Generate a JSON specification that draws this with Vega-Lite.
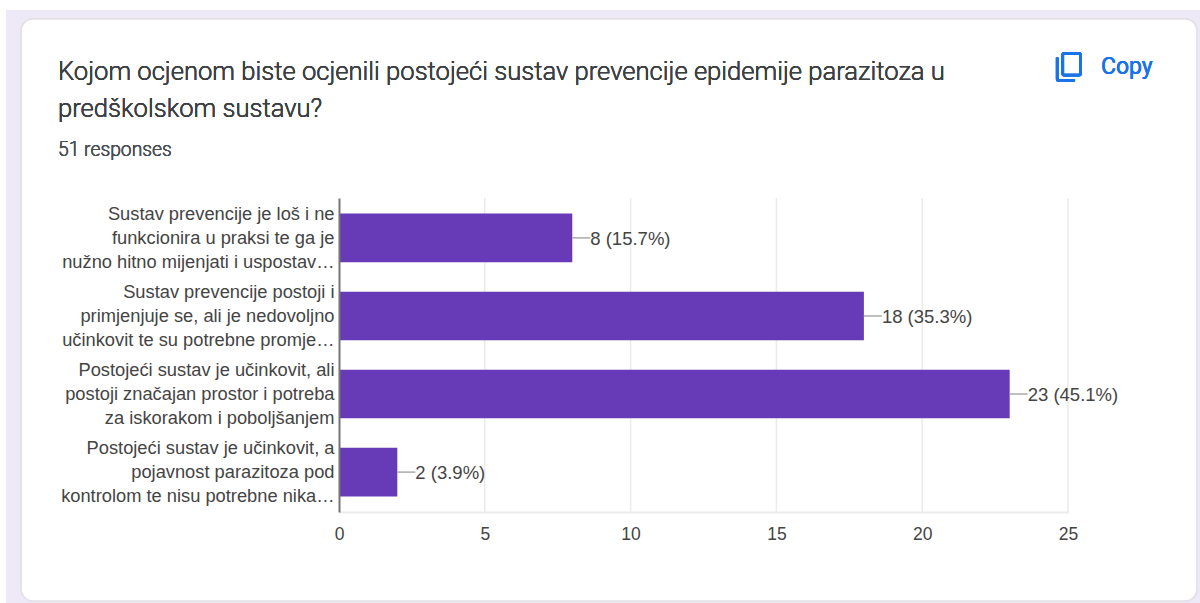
{
"$schema":"https://vega.github.io/schema/vega-lite/v6.json",
"width":729,"height":314,
"autosize":{"type":"none"},
"padding":{"left":339,"top":198,"right":132,"bottom":91},
"background":"#ffffff",
"config":{"view":{"stroke":null}},
"data":{"values":[
{"odgovor":"Sustav prevencije je loš i ne|funkcionira u praksi te ga je|nužno hitno mijenjati i uspostav…","broj":8,"oznaka":"8 (15.7%)"},
{"odgovor":"Sustav prevencije postoji i|primjenjuje se, ali je nedovoljno|učinkovit te su potrebne promje…","broj":18,"oznaka":"18 (35.3%)"},
{"odgovor":"Postojeći sustav je učinkovit, ali|postoji značajan prostor i potreba|za iskorakom i poboljšanjem","broj":23,"oznaka":"23 (45.1%)"},
{"odgovor":"Postojeći sustav je učinkovit, a|pojavnost parazitoza pod|kontrolom te nisu potrebne nika…","broj":2,"oznaka":"2 (3.9%)"}
]},
"resolve":{"scale":{"y":"independent"},"axis":{"y":"independent"}},
"layer":[
{"layer":[
{"mark":{"type":"rect","color":"#ede9f6"},"encoding":{"x":{"datum":-11.42,"type":"quantitative"},"x2":{"datum":29.53},"y":{"datum":10,"type":"quantitative","scale":{"domain":[198,512],"range":[0,314]},"axis":null},"y2":{"datum":603}}},
{"mark":{"type":"rect","color":"#ffffff","stroke":"#e3e1e8","strokeWidth":1.5,"cornerRadius":12},"encoding":{"x":{"datum":-10.9,"type":"quantitative"},"x2":{"datum":29.42},"y":{"datum":19,"type":"quantitative","scale":{"domain":[198,512],"range":[0,314]},"axis":null},"y2":{"datum":601}}},
{"mark":{"type":"point","shape":"M-3.5 -11H7.5c1.1 0 2 .9 2 2V5c0 1.1-.9 2-2 2H-3.5c-1.1 0-2-.9-2-2V-9c0-1.1.9-2 2-2zM-3.5 -9V5H7.5V-9zM-9.5 -7H-7.5V9H4.5V11H-7.5c-1.1 0-2-.9-2-2z","filled":true,"color":"#1a73e8","size":7.5,"opacity":1},"encoding":{"x":{"datum":25.03,"type":"quantitative"},"y":{"datum":67,"type":"quantitative","scale":{"domain":[198,512],"range":[0,314]},"axis":null}}},
{"mark":{"type":"text","text":"Copy","align":"left","baseline":"middle","font":"Roboto","fontSize":23,"fontWeight":400,"color":"#1a73e8"},"encoding":{"x":{"datum":26.13,"type":"quantitative"},"y":{"datum":67,"type":"quantitative","scale":{"domain":[198,512],"range":[0,314]},"axis":null}}},
{"mark":{"type":"text","text":["Kojom ocjenom biste ocjenili postojeći sustav prevencije epidemije parazitoza u","predškolskom sustavu?"],"lineHeight":37,"align":"left","baseline":"middle","font":"Roboto","fontSize":25.6,"fontWeight":300,"color":"#3c4043"},"encoding":{"x":{"datum":-9.636,"type":"quantitative"},"y":{"datum":72,"type":"quantitative","scale":{"domain":[198,512],"range":[0,314]},"axis":null}}},
{"mark":{"type":"text","text":"51 responses","align":"left","baseline":"middle","font":"Roboto","fontSize":19.3,"fontWeight":300,"color":"#4a4f55"},"encoding":{"x":{"datum":-9.636,"type":"quantitative"},"y":{"datum":150,"type":"quantitative","scale":{"domain":[198,512],"range":[0,314]},"axis":null}}}
]},
{"data":{"values":[{"crta":5},{"crta":10},{"crta":15},{"crta":20},{"crta":25}]},"mark":{"type":"rule","color":"#ebebeb","strokeWidth":1.5},"encoding":{"x":{"field":"crta","type":"quantitative"}}},
{"layer":[
{"mark":{"type":"bar","color":"#673ab7"},"encoding":{
"y":{"field":"odgovor","type":"nominal","sort":null,"title":null,"scale":{"paddingInner":0.378,"paddingOuter":0.2},
"axis":{"domain":true,"domainColor":"#757575","domainWidth":2,"ticks":false,"grid":false,"labelExpr":"split(datum.label,'|')","labelFont":"Liberation Sans","labelFontSize":18.3,"labelColor":"#444444","labelLimit":330,"labelPadding":5,"labelLineHeight":24,"labelOffset":-23,"zindex":1}},
"x":{"field":"broj","type":"quantitative","title":null,"scale":{"domain":[0,25],"nice":false},
"axis":{"values":[0,5,10,15,20,25],"format":"d","grid":false,"ticks":false,"domain":true,"domainColor":"#ebebeb","domainWidth":2,"labelFont":"Liberation Sans","labelFontSize":17.5,"labelColor":"#444444","labelPadding":13,"labelFlush":false,"zindex":1}}}},
{"mark":{"type":"rule","color":"#aaaaaa","strokeWidth":1.5,"x2Offset":18},"encoding":{"y":{"field":"odgovor","type":"nominal","sort":null},"x":{"field":"broj","type":"quantitative"},"x2":{"field":"broj"}}},
{"mark":{"type":"text","align":"left","baseline":"middle","dx":18,"dy":1,"font":"Liberation Sans","fontSize":18.5,"color":"#444444"},"encoding":{"y":{"field":"odgovor","type":"nominal","sort":null},"x":{"field":"broj","type":"quantitative"},"text":{"field":"oznaka"}}}
]}
]
}
